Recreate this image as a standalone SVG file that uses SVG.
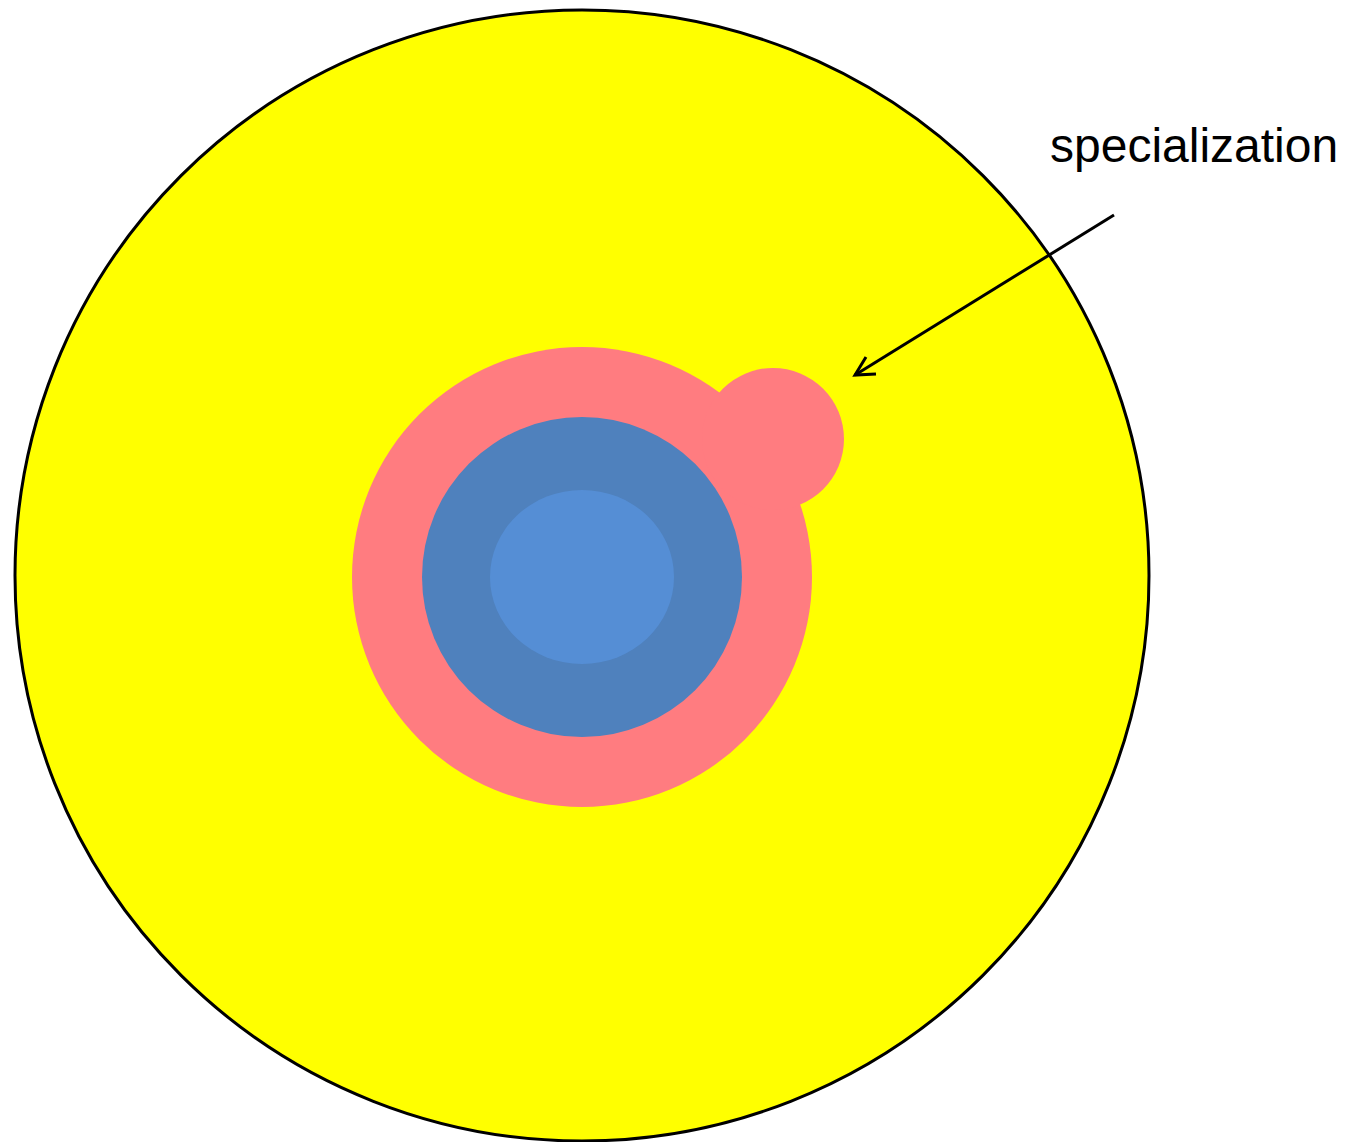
<svg xmlns="http://www.w3.org/2000/svg" width="1351" height="1142" viewBox="0 0 1351 1142">
<style>
.lbl{font-family:"Liberation Sans",Arial,sans-serif;font-size:48px;fill:#000}
.conn{stroke:#000;stroke-width:3;fill:none}
.pink{fill:#FF7C80}
</style>
<rect width="1351" height="1142" fill="#fff"/>
<g id="outer">
<ellipse cx="582" cy="575.5" rx="567" ry="565.5" fill="#FFFF00" stroke="#000" stroke-width="3"/>
</g>
<g id="pink">
<circle class="pink" cx="582" cy="577" r="230"/>
<circle class="pink" cx="773" cy="439" r="71"/>
</g>
<g id="blue">
<circle cx="582" cy="577" r="160" fill="#4F81BD"/>
</g>
<g id="core">
<ellipse cx="582" cy="577" rx="92" ry="87" fill="#558ED5"/>
</g>
<g id="connectors">
<line class="conn" x1="1114" y1="215" x2="855" y2="375"/>
<polyline class="conn" points="866,357 855,375 876,374"/>
</g>
<g id="label">
<text class="lbl" x="1050" y="162">specialization</text>
</g>
</svg>
